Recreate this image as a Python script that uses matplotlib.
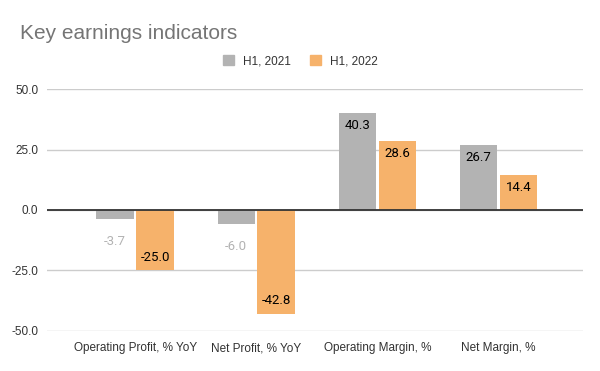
import matplotlib.pyplot as plt
import numpy as np

# Dados do gráfico
categories = ["Operating Profit, % YoY", "Net Profit, % YoY", "Operating Margin, %", "Net Margin, %"]
series_names = ["H1, 2021", "H1, 2022"]
h1_2021 = [-3.7, -6.0, 40.3, 26.7]
h1_2022 = [-25.0, -42.8, 28.6, 14.4]
y_ticks = [-50, -25, 0, 25, 50]

colors = ["#b3b3b3", "#f6b26b"]
plt.rcParams['font.family'] = ['Liberation Sans', 'DejaVu Sans']

fig = plt.figure(figsize=(6, 3.71), dpi=100)
ax = fig.add_axes([0.078, 0.108, 0.894, 0.652])

x = np.arange(len(categories))
width = 0.31
offset = 0.165

for values, color, shift in [(h1_2021, colors[0], -offset), (h1_2022, colors[1], offset)]:
    ax.bar(x + shift, values, width, color=color, zorder=3)
    for xi, v in zip(x + shift, values):
        label = f"{v:.1f}"
        # rótulo dentro da barra quando cabe, senão fora em cinza
        if abs(v) >= 10:
            if v > 0:
                ax.text(xi, v - 2.5, label, ha='center', va='top', fontsize=9.5,
                        color='black', family='Roboto', zorder=4)
            else:
                ax.text(xi, v + 2.5, label, ha='center', va='bottom', fontsize=9.5,
                        color='black', family='Roboto', zorder=4)
        else:
            ax.text(xi, v - 6.5, label, ha='center', va='top', fontsize=9.5,
                    color='#b3b3b3', family='Roboto', zorder=4)

ax.set_xlim(-0.73, 3.70)
ax.set_ylim(-50, 50)
ax.set_yticks(y_ticks)
ax.set_yticklabels([f"{t:.1f}" for t in y_ticks])
ax.set_xticks(x)
ax.set_xticklabels(categories)
ax.tick_params(axis='both', length=0, labelsize=8.5, colors='#333333')
ax.tick_params(axis='y', pad=6)
ax.tick_params(axis='x', pad=8)
ax.grid(axis='y', color='#cccccc', linewidth=1, zorder=0)
ax.axhline(0, color='#333333', linewidth=1.3, zorder=5)
for s in ax.spines.values():
    s.set_visible(False)

fig.text(0.033, 0.91, "Key earnings indicators", fontsize=15, color='#757575', va='center')

handles = [plt.Rectangle((0, 0), 1, 1, color=c) for c in colors]
fig.legend(handles, series_names, loc='center', bbox_to_anchor=(0.501, 0.835), ncol=2,
           frameon=False, fontsize=8.5, handlelength=0.9, handleheight=0.9,
           handletextpad=0.8, columnspacing=1.6, labelcolor='#333333')

fig.savefig("out.png", dpi=100)
